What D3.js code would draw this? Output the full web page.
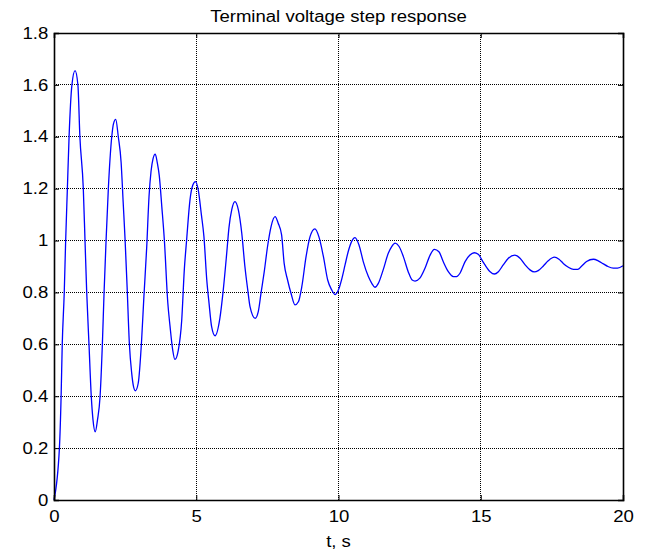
<!DOCTYPE html>
<html>
<head>
<meta charset="utf-8">
<script src="https://cdn.jsdelivr.net/npm/d3@7/dist/d3.min.js"></script>
<style>
  html, body { margin: 0; padding: 0; background: #fff; }
  svg { display: block; }
  text { font-family: "Liberation Sans", Arial, sans-serif; fill: #000; }
</style>
</head>
<body>
<svg id="chart" width="648" height="552"></svg>
<script>
// ---- data ----
const title = "Terminal voltage step response";
const xLabel = "t, s";
const xTicks = [0, 5, 10, 15, 20];
const yTicks = [0, 0.2, 0.4, 0.6, 0.8, 1, 1.2, 1.4, 1.6, 1.8];

const tValues = [
  0.00, 0.19, 0.25, 0.29, 0.36, 0.41, 0.47, 0.53, 0.63, 0.74,
  0.84, 0.91, 1.03, 1.09, 1.15, 1.23, 1.31, 1.37, 1.45, 1.53,
  1.62, 1.70, 1.76, 1.83, 1.91, 2.03, 2.09, 2.17, 2.26, 2.36,
  2.43, 2.50, 2.57, 2.65, 2.73, 2.79, 2.86, 2.96, 3.08, 3.16,
  3.26, 3.34, 3.41, 3.48, 3.56, 3.63, 3.70, 3.79, 3.88, 4.00,
  4.08, 4.17, 4.25, 4.37, 4.49, 4.58, 4.66, 4.78, 4.88, 4.97,
  5.07, 5.18, 5.27, 5.37, 5.45, 5.54, 5.66, 5.83, 5.95, 6.07,
  6.15, 6.25, 6.36, 6.48, 6.60, 6.71, 6.81, 6.89, 7.07, 7.18,
  7.28, 7.39, 7.51, 7.63, 7.77, 7.88, 8.00, 8.09, 8.21, 8.33,
  8.47, 8.59, 8.71, 8.86, 9.00, 9.17, 9.31, 9.47, 9.62, 9.76,
  9.88, 10.02, 10.11, 10.23, 10.34, 10.46, 10.58, 10.72, 10.87, 11.05,
  11.17, 11.28, 11.40, 11.57, 11.75, 11.87, 11.99, 12.13, 12.28, 12.45,
  12.59, 12.69, 12.86, 13.04, 13.22, 13.37, 13.53, 13.68, 13.86, 14.04,
  14.15, 14.27, 14.45, 14.62, 14.77, 14.91, 15.09, 15.15, 15.33, 15.48,
  15.62, 15.79, 15.97, 16.20, 16.38, 16.56, 16.73, 16.88, 17.02, 17.20,
  17.37, 17.59, 17.75, 17.90, 18.08, 18.26, 18.41, 18.55, 18.72, 18.96,
  19.13, 19.31, 19.47, 19.66, 19.81, 20.00
];
const voltage = [
  0.000, 0.200, 0.400, 0.600, 0.800, 1.000, 1.200, 1.400, 1.600, 1.655,
  1.600, 1.400, 1.200, 1.000, 0.800, 0.600, 0.400, 0.310, 0.263, 0.310,
  0.400, 0.600, 0.800, 1.000, 1.200, 1.400, 1.450, 1.467, 1.400, 1.300,
  1.150, 1.000, 0.820, 0.600, 0.490, 0.440, 0.421, 0.450, 0.617, 0.784,
  0.977, 1.170, 1.266, 1.315, 1.333, 1.300, 1.250, 1.130, 1.000, 0.760,
  0.668, 0.580, 0.542, 0.578, 0.694, 0.887, 1.000, 1.157, 1.214, 1.227,
  1.195, 1.100, 1.015, 0.848, 0.758, 0.668, 0.633, 0.700, 0.810, 0.950,
  1.050, 1.120, 1.150, 1.118, 1.028, 0.900, 0.810, 0.745, 0.700, 0.726,
  0.800, 0.880, 0.980, 1.054, 1.092, 1.067, 1.022, 0.912, 0.848, 0.797,
  0.752, 0.764, 0.822, 0.938, 1.015, 1.045, 1.015, 0.938, 0.848, 0.810,
  0.792, 0.816, 0.850, 0.906, 0.957, 0.996, 1.011, 0.983, 0.919, 0.861,
  0.835, 0.820, 0.835, 0.887, 0.951, 0.977, 0.990, 0.977, 0.938, 0.880,
  0.848, 0.844, 0.855, 0.893, 0.944, 0.966, 0.957, 0.919, 0.880, 0.861,
  0.861, 0.874, 0.919, 0.944, 0.953, 0.947, 0.916, 0.906, 0.880, 0.871,
  0.880, 0.906, 0.932, 0.944, 0.932, 0.906, 0.887, 0.879, 0.884, 0.902,
  0.922, 0.936, 0.928, 0.912, 0.897, 0.889, 0.889, 0.902, 0.919, 0.928,
  0.922, 0.910, 0.900, 0.894, 0.894, 0.903
];

// ---- layout ----
const svg = d3.select("#chart");
const margin = { left: 54, right: 25, top: 33, bottom: 52 };
const W = 648, H = 552;
const FONT = "'Liberation Sans', Arial, sans-serif";
const STRETCH = "scale(1.16,1)";
const x = d3.scaleLinear().domain([0, 20]).range([margin.left, W - margin.right]);
const y = d3.scaleLinear().domain([0, 1.8]).range([H - margin.bottom, margin.top]);
const x0 = x.range()[0], x1 = x.range()[1], y0 = y.range()[0], y1 = y.range()[1];

// grid
const grid = svg.append("g").attr("stroke", "#000").attr("stroke-width", 1)
  .attr("stroke-dasharray", "1,1").attr("shape-rendering", "crispEdges");
xTicks.forEach(t => {
  if (t === 0 || t === 20) return;
  grid.append("line").attr("x1", x(t)).attr("x2", x(t)).attr("y1", y1).attr("y2", y0);
});
yTicks.forEach(t => {
  if (t === 0 || t === 1.8) return;
  grid.append("line").attr("x1", x0).attr("x2", x1).attr("y1", y(t)).attr("y2", y(t));
});

// data line
const pts = tValues.map((t, i) => [t, voltage[i]]);
svg.append("path")
  .datum(pts)
  .attr("fill", "none")
  .attr("stroke", "#0000ff")
  .attr("stroke-width", 1.3)
  .attr("d", d3.line().x(d => x(d[0])).y(d => y(d[1])).curve(d3.curveMonotoneX));

// axes (MATLAB style: ticks inside, box)
const axB = svg.append("g").attr("transform", `translate(0,${y0})`)
  .call(d3.axisBottom(x).tickValues(xTicks).tickSize(-5).tickPadding(11).tickFormat(d3.format("d")));
const axT = svg.append("g").attr("transform", `translate(0,${y1})`)
  .call(d3.axisTop(x).tickValues(xTicks).tickSize(-5).tickFormat(""));
const axL = svg.append("g").attr("transform", `translate(${x0},0)`)
  .call(d3.axisLeft(y).tickValues(yTicks).tickSize(-5).tickPadding(5).tickFormat(d => String(+d.toFixed(1))));
const axR = svg.append("g").attr("transform", `translate(${x1},0)`)
  .call(d3.axisRight(y).tickValues(yTicks).tickSize(-5).tickFormat(""));

[axB, axT, axL, axR].forEach(a => {
  a.select(".domain").attr("stroke", "#000").attr("stroke-width", 1.6);
  a.selectAll(".tick line").attr("stroke", "#000").attr("stroke-width", 1);
  a.selectAll(".tick text").style("font-size", "16px").style("font-family", FONT)
    .attr("fill", "#000").attr("transform", STRETCH);
});

// title and label
svg.append("g").attr("transform", `translate(${(x0 + x1) / 2},22)`)
  .append("text").attr("text-anchor", "middle").attr("transform", STRETCH)
  .style("font-size", "16px").text(title);
svg.append("g").attr("transform", `translate(${(x0 + x1) / 2},547)`)
  .append("text").attr("text-anchor", "middle").attr("transform", STRETCH)
  .style("font-size", "16px").text(xLabel);
</script>
</body>
</html>
